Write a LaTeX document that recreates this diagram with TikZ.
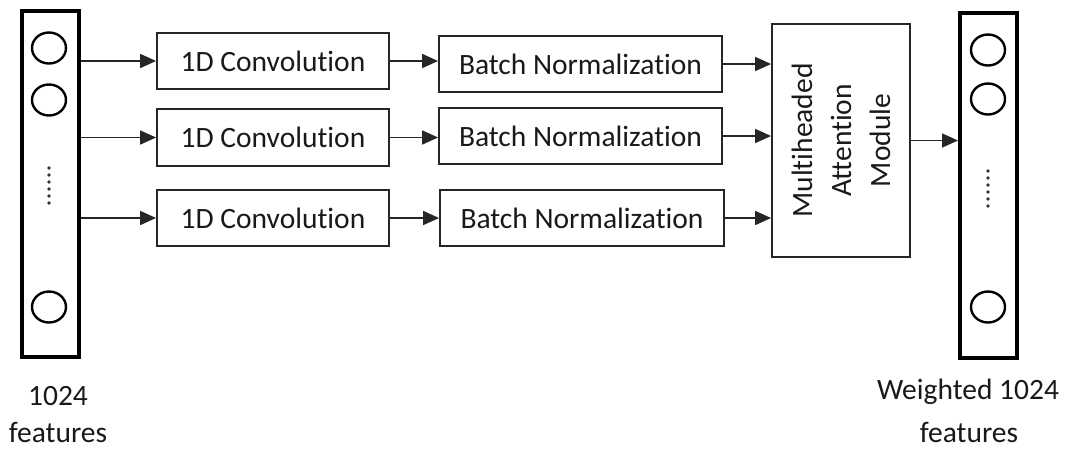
\documentclass[tikz,border=0pt]{standalone}
\usepackage{fontspec}
\setmainfont[Ligatures=NoCommon]{Carlito}
\usetikzlibrary{arrows.meta,shapes.geometric}

\tikzset{
  every node/.style={font=\fontsize{29.5}{34}\selectfont, text=black!90},
  column/.style={draw=black, line width=4pt, minimum width=57pt, inner sep=0pt},
  block/.style={draw=black!85, line width=1.8pt, inner sep=0pt},
  unit/.style={draw=black, line width=2.4pt, ellipse, minimum width=34pt, minimum height=31pt, inner sep=0pt},
  flow/.style={line width=1.6pt, draw=black!85, -{Triangle[length=16pt,width=14pt]}},
  dot/.style={fill=black!80, circle, inner sep=0pt, minimum size=3.6pt},
}

\begin{document}
\begin{tikzpicture}[x=1pt, y=-1pt]
\useasboundingbox (0,0) rectangle (1065,448);

% input feature column
\node[column, minimum height=346pt] (incol) at (50.5,184) {};
\node[unit] (in1) at (49,48) {};
\node[unit] (in2) at (49,100) {};
\node[unit] (in3) at (49,307) {};
\foreach \k in {0,...,5} \node[dot] (indot\k) at (49,168+7*\k) {};

% output feature column
\node[column, minimum height=345pt] (outcol) at (988.5,185.5) {};
\node[unit] (out1) at (988,50) {};
\node[unit] (out2) at (988,99) {};
\node[unit] (out3) at (988,307) {};
\foreach \k in {0,...,5} \node[dot] (outdot\k) at (988,171+7*\k) {};

% convolution branches
\node[block, minimum width=232pt, minimum height=56pt] (conv1) at (273,61) {1D Convolution};
\node[block, minimum width=232pt, minimum height=57pt] (conv2) at (273,137.5) {1D Convolution};
\node[block, minimum width=232pt, minimum height=56pt] (conv3) at (273,218) {1D Convolution};

% batch normalization
\node[block, minimum width=283pt, minimum height=56pt] (bn1) at (580.5,64) {Batch Normalization};
\node[block, minimum width=283pt, minimum height=56pt] (bn2) at (580.5,136) {Batch Normalization};
\node[block, minimum width=284pt, minimum height=56pt] (bn3) at (582,218) {Batch Normalization};

% attention module
\node[block, minimum width=138pt, minimum height=233pt] (mha) at (841,140.5) {};
\node[rotate=90, align=center, font=\fontsize{29.5}{39}\selectfont] (mhatext) at (mha.center) {Multiheaded\\Attention\\Module};

% labels
\node[align=center] (inlabel) at (58,396) {1024};
\node[align=center] (inlabel2) at (58,432) {features};
\node[align=center] (outlabel) at (968,392) {Weighted 1024};
\node[align=center] (outlabel2) at (969,432) {features};

% connectors
\foreach \c in {conv1,conv2,conv3}
  \draw[flow] (incol.east |- \c.west) -- (\c.west);
\draw[flow] (conv1.east) -- (bn1.west |- conv1.east);
\draw[flow] (conv2.east) -- (bn2.west |- conv2.east);
\draw[flow] (conv3.east) -- (bn3.west |- conv3.east);
\foreach \b in {bn1,bn2,bn3}
  \draw[flow] (\b.east) -- (\b.east -| mha.west);
\draw[flow] (mha.east) -- (mha.east -| outcol.west);
\end{tikzpicture}
\end{document}
